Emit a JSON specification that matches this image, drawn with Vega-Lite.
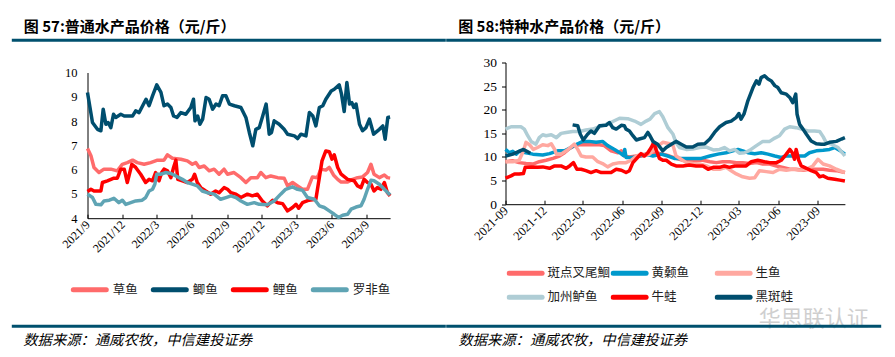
{
"$schema": "https://vega.github.io/schema/vega-lite/v6.json",
"background": "white",
"padding": {"left": 9.5, "top": 19.5, "right": 0, "bottom": 0},
"config": {"view": {"stroke": null}, "font": "Noto Sans CJK SC"},
"spacing": 115,
"bounds": "flush",
"resolve": {"scale": {"color": "independent"}, "legend": {"color": "independent"}},
"hconcat": [
{
 "width": 302.6, "height": 155.7,
 "title": {"text": "图 57:普通水产品价格（元/斤）", "anchor": "start", "frame": "group", "dx": -63.7, "offset": -2.9, "baseline": "middle", "fontSize": 15, "fontWeight": "bold", "color": "#000", "font": "Noto Sans CJK SC"},
 "layer": [
 {"data": {"values": [{}]}, "mark": {"type": "rule", "color": "#00506E", "strokeWidth": 3},
  "encoding": {"x": {"value": -75.7}, "x2": {"value": 358.3}, "y": {"value": -22.3}}},
 {"data": {"values": [{}]}, "mark": {"type": "rule", "color": "#00506E", "strokeWidth": 3},
  "encoding": {"x": {"value": -75.7}, "x2": {"value": 358.3}, "y": {"value": 263.7}}},
 {
  "data": {"format": {"parse": {"date": "date:'%Y-%m-%d'"}}, "values": [
{"date":"2021-09-01","series":"草鱼","price":6.87},{"date":"2021-09-10","series":"草鱼","price":6.57},{"date":"2021-09-18","series":"草鱼","price":6.09},{"date":"2021-10-01","series":"草鱼","price":5.88},{"date":"2021-10-14","series":"草鱼","price":6.02},{"date":"2021-11-01","series":"草鱼","price":6.02},{"date":"2021-11-18","series":"草鱼","price":5.95},{"date":"2021-12-01","series":"草鱼","price":6.22},{"date":"2021-12-14","series":"草鱼","price":6.29},{"date":"2021-12-28","series":"草鱼","price":6.39},{"date":"2022-01-09","series":"草鱼","price":6.29},{"date":"2022-01-27","series":"草鱼","price":6.22},{"date":"2022-02-13","series":"草鱼","price":6.29},{"date":"2022-03-03","series":"草鱼","price":6.39},{"date":"2022-03-20","series":"草鱼","price":6.39},{"date":"2022-03-29","series":"草鱼","price":6.61},{"date":"2022-04-11","series":"草鱼","price":6.47},{"date":"2022-05-03","series":"草鱼","price":6.43},{"date":"2022-05-20","series":"草鱼","price":6.36},{"date":"2022-06-02","series":"草鱼","price":6.22},{"date":"2022-06-11","series":"草鱼","price":6.29},{"date":"2022-06-20","series":"草鱼","price":6.09},{"date":"2022-07-03","series":"草鱼","price":6.15},{"date":"2022-07-16","series":"草鱼","price":5.95},{"date":"2022-07-29","series":"草鱼","price":6.02},{"date":"2022-08-11","series":"草鱼","price":5.81},{"date":"2022-08-24","series":"草鱼","price":6.02},{"date":"2022-09-02","series":"草鱼","price":5.81},{"date":"2022-09-19","series":"草鱼","price":5.88},{"date":"2022-10-07","series":"草鱼","price":5.67},{"date":"2022-10-20","series":"草鱼","price":5.47},{"date":"2022-11-02","series":"草鱼","price":5.67},{"date":"2022-11-19","series":"草鱼","price":5.67},{"date":"2022-11-28","series":"草鱼","price":5.88},{"date":"2022-12-11","series":"草鱼","price":5.67},{"date":"2022-12-24","series":"草鱼","price":5.74},{"date":"2023-01-11","series":"草鱼","price":5.67},{"date":"2023-01-28","series":"草鱼","price":5.65},{"date":"2023-02-06","series":"草鱼","price":5.33},{"date":"2023-02-19","series":"草鱼","price":5.47},{"date":"2023-03-04","series":"草鱼","price":5.33},{"date":"2023-03-17","series":"草鱼","price":5.19},{"date":"2023-03-30","series":"草鱼","price":5.19},{"date":"2023-04-12","series":"草鱼","price":5.7},{"date":"2023-04-25","series":"草鱼","price":5.67},{"date":"2023-05-04","series":"草鱼","price":6.02},{"date":"2023-05-17","series":"草鱼","price":5.98},{"date":"2023-05-26","series":"草鱼","price":6.09},{"date":"2023-06-06","series":"草鱼","price":5.78},{"date":"2023-06-17","series":"草鱼","price":5.6},{"date":"2023-06-26","series":"草鱼","price":5.49},{"date":"2023-07-13","series":"草鱼","price":5.49},{"date":"2023-07-26","series":"草鱼","price":5.6},{"date":"2023-08-08","series":"草鱼","price":5.67},{"date":"2023-08-21","series":"草鱼","price":5.7},{"date":"2023-09-03","series":"草鱼","price":5.88},{"date":"2023-09-12","series":"草鱼","price":6.22},{"date":"2023-09-20","series":"草鱼","price":5.81},{"date":"2023-10-04","series":"草鱼","price":5.67},{"date":"2023-10-17","series":"草鱼","price":5.78},{"date":"2023-10-25","series":"草鱼","price":5.67},{"date":"2023-11-01","series":"草鱼","price":5.65},
{"date":"2021-09-01","series":"鲫鱼","price":9.18},{"date":"2021-09-14","series":"鲫鱼","price":7.94},{"date":"2021-09-27","series":"鲫鱼","price":7.66},{"date":"2021-10-06","series":"鲫鱼","price":7.6},{"date":"2021-10-12","series":"鲫鱼","price":8.49},{"date":"2021-10-19","series":"鲫鱼","price":7.87},{"date":"2021-10-25","series":"鲫鱼","price":7.94},{"date":"2021-11-01","series":"鲫鱼","price":7.73},{"date":"2021-11-08","series":"鲫鱼","price":8.28},{"date":"2021-11-14","series":"鲫鱼","price":8.15},{"date":"2021-11-27","series":"鲫鱼","price":8.28},{"date":"2021-12-06","series":"鲫鱼","price":8.21},{"date":"2021-12-28","series":"鲫鱼","price":8.21},{"date":"2022-01-05","series":"鲫鱼","price":8.42},{"date":"2022-01-14","series":"鲫鱼","price":8.35},{"date":"2022-02-01","series":"鲫鱼","price":8.9},{"date":"2022-02-09","series":"鲫鱼","price":8.63},{"date":"2022-02-18","series":"鲫鱼","price":9.04},{"date":"2022-03-01","series":"鲫鱼","price":9.49},{"date":"2022-03-12","series":"鲫鱼","price":9.18},{"date":"2022-03-20","series":"鲫鱼","price":8.63},{"date":"2022-03-29","series":"鲫鱼","price":8.7},{"date":"2022-04-07","series":"鲫鱼","price":8.56},{"date":"2022-04-14","series":"鲫鱼","price":8.21},{"date":"2022-04-23","series":"鲫鱼","price":8.15},{"date":"2022-05-03","series":"鲫鱼","price":8.35},{"date":"2022-05-16","series":"鲫鱼","price":8.28},{"date":"2022-05-29","series":"鲫鱼","price":8.56},{"date":"2022-06-05","series":"鲫鱼","price":8.9},{"date":"2022-06-09","series":"鲫鱼","price":8.01},{"date":"2022-06-16","series":"鲫鱼","price":8.21},{"date":"2022-06-22","series":"鲫鱼","price":7.87},{"date":"2022-06-29","series":"鲫鱼","price":8.08},{"date":"2022-07-08","series":"鲫鱼","price":8.97},{"date":"2022-07-16","series":"鲫鱼","price":8.9},{"date":"2022-07-25","series":"鲫鱼","price":8.49},{"date":"2022-08-03","series":"鲫鱼","price":8.7},{"date":"2022-08-11","series":"鲫鱼","price":8.63},{"date":"2022-08-20","series":"鲫鱼","price":9.04},{"date":"2022-08-29","series":"鲫鱼","price":9.04},{"date":"2022-09-07","series":"鲫鱼","price":8.7},{"date":"2022-09-20","series":"鲫鱼","price":8.63},{"date":"2022-10-07","series":"鲫鱼","price":8.56},{"date":"2022-10-20","series":"鲫鱼","price":8.15},{"date":"2022-10-29","series":"鲫鱼","price":7.53},{"date":"2022-11-07","series":"鲫鱼","price":6.98},{"date":"2022-11-15","series":"鲫鱼","price":7.66},{"date":"2022-11-24","series":"鲫鱼","price":7.73},{"date":"2022-12-03","series":"鲫鱼","price":8.21},{"date":"2022-12-12","series":"鲫鱼","price":8.7},{"date":"2022-12-20","series":"鲫鱼","price":7.46},{"date":"2022-12-26","series":"鲫鱼","price":7.53},{"date":"2023-01-02","series":"鲫鱼","price":8.01},{"date":"2023-01-15","series":"鲫鱼","price":7.87},{"date":"2023-01-28","series":"鲫鱼","price":7.66},{"date":"2023-02-06","series":"鲫鱼","price":7.46},{"date":"2023-02-24","series":"鲫鱼","price":7.39},{"date":"2023-03-04","series":"鲫鱼","price":7.28},{"date":"2023-03-13","series":"鲫鱼","price":7.46},{"date":"2023-03-26","series":"鲫鱼","price":7.39},{"date":"2023-04-04","series":"鲫鱼","price":8.35},{"date":"2023-04-13","series":"鲫鱼","price":8.21},{"date":"2023-04-21","series":"鲫鱼","price":7.8},{"date":"2023-04-30","series":"鲫鱼","price":8.56},{"date":"2023-05-09","series":"鲫鱼","price":8.63},{"date":"2023-05-17","series":"鲫鱼","price":8.9},{"date":"2023-05-31","series":"鲫鱼","price":9.24},{"date":"2023-06-08","series":"鲫鱼","price":9.31},{"date":"2023-06-21","series":"鲫鱼","price":9.49},{"date":"2023-06-27","series":"鲫鱼","price":9.11},{"date":"2023-07-04","series":"鲫鱼","price":8.39},{"date":"2023-07-11","series":"鲫鱼","price":9.59},{"date":"2023-07-18","series":"鲫鱼","price":8.7},{"date":"2023-07-24","series":"鲫鱼","price":8.76},{"date":"2023-07-29","series":"鲫鱼","price":8.56},{"date":"2023-08-04","series":"鲫鱼","price":8.7},{"date":"2023-08-13","series":"鲫鱼","price":7.87},{"date":"2023-08-21","series":"鲫鱼","price":7.6},{"date":"2023-08-30","series":"鲫鱼","price":7.73},{"date":"2023-09-08","series":"鲫鱼","price":8.08},{"date":"2023-09-19","series":"鲫鱼","price":7.46},{"date":"2023-10-04","series":"鲫鱼","price":7.66},{"date":"2023-10-13","series":"鲫鱼","price":7.8},{"date":"2023-10-19","series":"鲫鱼","price":7.25},{"date":"2023-10-26","series":"鲫鱼","price":8.15},{"date":"2023-11-01","series":"鲫鱼","price":8.17},
{"date":"2021-09-01","series":"鲤鱼","price":5.1},{"date":"2021-09-10","series":"鲤鱼","price":5.19},{"date":"2021-09-18","series":"鲤鱼","price":5.12},{"date":"2021-10-06","series":"鲤鱼","price":5.12},{"date":"2021-10-10","series":"鲤鱼","price":5.47},{"date":"2021-10-23","series":"鲤鱼","price":5.54},{"date":"2021-11-09","series":"鲤鱼","price":5.65},{"date":"2021-11-18","series":"鲤鱼","price":5.65},{"date":"2021-11-27","series":"鲤鱼","price":6.02},{"date":"2021-12-06","series":"鲤鱼","price":6.02},{"date":"2021-12-14","series":"鲤鱼","price":5.47},{"date":"2021-12-26","series":"鲤鱼","price":6.22},{"date":"2022-01-05","series":"鲤鱼","price":6.09},{"date":"2022-01-18","series":"鲤鱼","price":5.81},{"date":"2022-01-31","series":"鲤鱼","price":5.47},{"date":"2022-02-09","series":"鲤鱼","price":5.6},{"date":"2022-02-18","series":"鲤鱼","price":5.54},{"date":"2022-02-26","series":"鲤鱼","price":5.88},{"date":"2022-03-07","series":"鲤鱼","price":5.54},{"date":"2022-03-14","series":"鲤鱼","price":5.88},{"date":"2022-03-20","series":"鲤鱼","price":6.02},{"date":"2022-03-29","series":"鲤鱼","price":5.95},{"date":"2022-04-07","series":"鲤鱼","price":5.67},{"date":"2022-04-14","series":"鲤鱼","price":6.09},{"date":"2022-04-20","series":"鲤鱼","price":6.39},{"date":"2022-04-25","series":"鲤鱼","price":5.6},{"date":"2022-05-07","series":"鲤鱼","price":5.54},{"date":"2022-05-20","series":"鲤鱼","price":5.47},{"date":"2022-06-02","series":"鲤鱼","price":5.6},{"date":"2022-06-08","series":"鲤鱼","price":5.81},{"date":"2022-06-15","series":"鲤鱼","price":5.47},{"date":"2022-06-24","series":"鲤鱼","price":5.26},{"date":"2022-07-07","series":"鲤鱼","price":5.12},{"date":"2022-07-20","series":"鲤鱼","price":4.99},{"date":"2022-08-02","series":"鲤鱼","price":5.12},{"date":"2022-08-11","series":"鲤鱼","price":5.05},{"date":"2022-08-24","series":"鲤鱼","price":5.26},{"date":"2022-09-02","series":"鲤鱼","price":5.19},{"date":"2022-09-11","series":"鲤鱼","price":5.05},{"date":"2022-09-24","series":"鲤鱼","price":4.99},{"date":"2022-10-07","series":"鲤鱼","price":4.85},{"date":"2022-10-24","series":"鲤鱼","price":4.99},{"date":"2022-11-06","series":"鲤鱼","price":4.92},{"date":"2022-11-19","series":"鲤鱼","price":4.99},{"date":"2022-12-02","series":"鲤鱼","price":4.71},{"date":"2022-12-15","series":"鲤鱼","price":4.51},{"date":"2022-12-29","series":"鲤鱼","price":4.74},{"date":"2023-01-11","series":"鲤鱼","price":4.64},{"date":"2023-01-24","series":"鲤鱼","price":4.6},{"date":"2023-02-06","series":"鲤鱼","price":4.3},{"date":"2023-02-19","series":"鲤鱼","price":4.44},{"date":"2023-02-28","series":"鲤鱼","price":4.57},{"date":"2023-03-07","series":"鲤鱼","price":4.41},{"date":"2023-03-17","series":"鲤鱼","price":4.64},{"date":"2023-04-03","series":"鲤鱼","price":4.74},{"date":"2023-04-21","series":"鲤鱼","price":4.78},{"date":"2023-04-30","series":"鲤鱼","price":5.67},{"date":"2023-05-07","series":"鲤鱼","price":6.36},{"date":"2023-05-17","series":"鲤鱼","price":6.77},{"date":"2023-05-26","series":"鲤鱼","price":6.74},{"date":"2023-06-02","series":"鲤鱼","price":6.43},{"date":"2023-06-08","series":"鲤鱼","price":6.61},{"date":"2023-06-17","series":"鲤鱼","price":6.09},{"date":"2023-06-26","series":"鲤鱼","price":5.81},{"date":"2023-07-13","series":"鲤鱼","price":5.6},{"date":"2023-07-30","series":"鲤鱼","price":5.54},{"date":"2023-08-08","series":"鲤鱼","price":5.33},{"date":"2023-08-17","series":"鲤鱼","price":5.26},{"date":"2023-08-25","series":"鲤鱼","price":5.6},{"date":"2023-09-03","series":"鲤鱼","price":5.47},{"date":"2023-09-12","series":"鲤鱼","price":5.4},{"date":"2023-09-20","series":"鲤鱼","price":5.12},{"date":"2023-09-29","series":"鲤鱼","price":5.26},{"date":"2023-10-08","series":"鲤鱼","price":5.19},{"date":"2023-10-17","series":"鲤鱼","price":5.47},{"date":"2023-10-25","series":"鲤鱼","price":5.05},{"date":"2023-11-01","series":"鲤鱼","price":4.92},
{"date":"2021-09-01","series":"罗非鱼","price":4.99},{"date":"2021-09-14","series":"罗非鱼","price":4.85},{"date":"2021-09-23","series":"罗非鱼","price":4.57},{"date":"2021-10-06","series":"罗非鱼","price":4.55},{"date":"2021-10-14","series":"罗非鱼","price":4.71},{"date":"2021-10-28","series":"罗非鱼","price":4.74},{"date":"2021-11-09","series":"罗非鱼","price":4.82},{"date":"2021-11-22","series":"罗非鱼","price":4.64},{"date":"2021-12-01","series":"罗非鱼","price":4.74},{"date":"2021-12-10","series":"罗非鱼","price":4.57},{"date":"2021-12-23","series":"罗非鱼","price":4.64},{"date":"2022-01-05","series":"罗非鱼","price":4.71},{"date":"2022-01-22","series":"罗非鱼","price":4.74},{"date":"2022-01-31","series":"罗非鱼","price":4.85},{"date":"2022-02-09","series":"罗非鱼","price":5.12},{"date":"2022-02-18","series":"罗非鱼","price":5.19},{"date":"2022-02-24","series":"罗非鱼","price":5.4},{"date":"2022-03-01","series":"罗非鱼","price":5.81},{"date":"2022-03-11","series":"罗非鱼","price":5.81},{"date":"2022-03-24","series":"罗非鱼","price":5.88},{"date":"2022-04-07","series":"罗非鱼","price":5.84},{"date":"2022-04-20","series":"罗非鱼","price":5.74},{"date":"2022-05-07","series":"罗非鱼","price":5.6},{"date":"2022-05-20","series":"罗非鱼","price":5.47},{"date":"2022-06-02","series":"罗非鱼","price":5.4},{"date":"2022-06-15","series":"罗非鱼","price":5.33},{"date":"2022-06-28","series":"罗非鱼","price":5.12},{"date":"2022-07-11","series":"罗非鱼","price":5.05},{"date":"2022-07-29","series":"罗非鱼","price":4.99},{"date":"2022-08-15","series":"罗非鱼","price":4.78},{"date":"2022-08-29","series":"罗非鱼","price":4.85},{"date":"2022-09-11","series":"罗非鱼","price":4.92},{"date":"2022-09-24","series":"罗非鱼","price":4.85},{"date":"2022-10-07","series":"罗非鱼","price":4.71},{"date":"2022-10-24","series":"罗非鱼","price":4.57},{"date":"2022-11-11","series":"罗非鱼","price":4.64},{"date":"2022-11-24","series":"罗非鱼","price":4.57},{"date":"2022-12-15","series":"罗非鱼","price":4.55},{"date":"2023-01-02","series":"罗非鱼","price":4.71},{"date":"2023-01-19","series":"罗非鱼","price":4.99},{"date":"2023-02-01","series":"罗非鱼","price":5.19},{"date":"2023-02-19","series":"罗非鱼","price":5.29},{"date":"2023-03-04","series":"罗非鱼","price":5.19},{"date":"2023-03-17","series":"罗非鱼","price":5.15},{"date":"2023-03-30","series":"罗非鱼","price":4.85},{"date":"2023-04-17","series":"罗非鱼","price":4.78},{"date":"2023-04-30","series":"罗非鱼","price":4.51},{"date":"2023-05-13","series":"罗非鱼","price":4.44},{"date":"2023-05-26","series":"罗非鱼","price":4.3},{"date":"2023-06-08","series":"罗非鱼","price":4.16},{"date":"2023-06-19","series":"罗非鱼","price":4.03},{"date":"2023-06-30","series":"罗非鱼","price":4.12},{"date":"2023-07-13","series":"罗非鱼","price":4.16},{"date":"2023-07-22","series":"罗非鱼","price":4.37},{"date":"2023-08-04","series":"罗非鱼","price":4.46},{"date":"2023-08-17","series":"罗非鱼","price":4.51},{"date":"2023-08-25","series":"罗非鱼","price":4.78},{"date":"2023-09-03","series":"罗非鱼","price":5.19},{"date":"2023-09-12","series":"罗非鱼","price":5.56},{"date":"2023-09-20","series":"罗非鱼","price":5.54},{"date":"2023-10-04","series":"罗非鱼","price":5.4},{"date":"2023-10-17","series":"罗非鱼","price":5.19},{"date":"2023-11-01","series":"罗非鱼","price":4.96}
  ]},
  "mark": {"type": "line", "strokeWidth": 3.5, "strokeJoin": "round"},
  "encoding": {
   "x": {"field": "date", "type": "temporal",
    "scale": {"domain": [{"year": 2021, "month": 9, "date": 1}, {"year": 2023, "month": 11, "date": 1}]},
    "axis": {"grid": false, "format": "%Y/%-m", "labelAngle": -45, "labelAlign": "right", "labelBaseline": "middle", "labelFont": "Liberation Serif", "labelFontSize": 12, "labelColor": "#000", "labelPadding": 8, "labelOverlap": false, "labelFlush": false, "tickSize": -4, "tickColor": "#000", "domainColor": "#000",
     "title": "数据来源：通威农牧，中信建投证券", "titleX": -64.7, "titleY": 122, "titleAlign": "left", "titleBaseline": "middle", "titleAngle": 0, "titleFont": "Noto Sans CJK SC", "titleFontSize": 14.3, "titleFontStyle": "italic", "titleFontWeight": "normal", "titleColor": "#000",
     "values": [{"year": 2021, "month": 9, "date": 1}, {"year": 2021, "month": 12, "date": 1}, {"year": 2022, "month": 3, "date": 1}, {"year": 2022, "month": 6, "date": 1}, {"year": 2022, "month": 9, "date": 1}, {"year": 2022, "month": 12, "date": 1}, {"year": 2023, "month": 3, "date": 1}, {"year": 2023, "month": 6, "date": 1}, {"year": 2023, "month": 9, "date": 1}]}},
   "y": {"field": "price", "type": "quantitative",
    "scale": {"domain": [4, 10], "range": [155.7, 10], "nice": false, "zero": false},
    "axis": {"title": null, "grid": false, "values": [4, 5, 6, 7, 8, 9, 10], "ticks": false, "labelPadding": 10.5, "labelFont": "Liberation Serif", "labelFontSize": 12.5, "labelColor": "#000", "domainColor": "#000"}},
   "color": {"field": "series", "type": "nominal",
    "scale": {"domain": ["草鱼", "鲫鱼", "鲤鱼", "罗非鱼"], "range": ["#FF6B6B", "#004E6E", "#FF0000", "#5FA4B4"]},
    "legend": {"title": null, "orient": "none", "legendX": -16.7, "legendY": 208.2, "direction": "horizontal", "padding": 0, "symbolType": "stroke", "symbolSize": 1089, "symbolStrokeWidth": 5, "labelFont": "Noto Sans CJK SC", "labelFontSize": 12.5, "labelColor": "#222", "labelOffset": 4, "columnPadding": 4,
     "encode": {"symbols": {"update": {"strokeCap": {"value": "round"}}}}}}
  }}
 ]
},
{
 "width": 339.4, "height": 141.7,
 "title": {"text": "图 58:特种水产品价格（元/斤）", "anchor": "start", "frame": "group", "dx": -47.3, "offset": -2.9, "baseline": "middle", "fontSize": 15, "fontWeight": "bold", "color": "#000", "font": "Noto Sans CJK SC"},
 "layer": [
 {"data": {"values": [{}]}, "mark": {"type": "rule", "color": "#00506E", "strokeWidth": 3},
  "encoding": {"x": {"value": -59.3}, "x2": {"value": 375.7}, "y": {"value": -22.3}}},
 {"data": {"values": [{}]}, "mark": {"type": "rule", "color": "#00506E", "strokeWidth": 3},
  "encoding": {"x": {"value": -59.3}, "x2": {"value": 375.7}, "y": {"value": 263.7}}},
 {
 "data": {"format": {"parse": {"date": "date:'%Y-%m-%d'"}}, "values": [
{"date":"2021-09-01","series":"斑点叉尾鮰","price":9.0},{"date":"2021-09-18","series":"斑点叉尾鮰","price":9.2},{"date":"2021-10-03","series":"斑点叉尾鮰","price":8.8},{"date":"2021-10-19","series":"斑点叉尾鮰","price":8.6},{"date":"2021-11-04","series":"斑点叉尾鮰","price":8.5},{"date":"2021-11-19","series":"斑点叉尾鮰","price":9.0},{"date":"2021-12-05","series":"斑点叉尾鮰","price":9.3},{"date":"2021-12-21","series":"斑点叉尾鮰","price":9.7},{"date":"2022-01-05","series":"斑点叉尾鮰","price":10.2},{"date":"2022-01-17","series":"斑点叉尾鮰","price":10.9},{"date":"2022-01-29","series":"斑点叉尾鮰","price":11.8},{"date":"2022-02-09","series":"斑点叉尾鮰","price":12.4},{"date":"2022-02-21","series":"斑点叉尾鮰","price":12.6},{"date":"2022-03-08","series":"斑点叉尾鮰","price":12.6},{"date":"2022-03-24","series":"斑点叉尾鮰","price":12.6},{"date":"2022-04-09","series":"斑点叉尾鮰","price":12.6},{"date":"2022-04-20","series":"斑点叉尾鮰","price":12.4},{"date":"2022-05-06","series":"斑点叉尾鮰","price":11.3},{"date":"2022-05-22","series":"斑点叉尾鮰","price":10.9},{"date":"2022-05-30","series":"斑点叉尾鮰","price":11.3},{"date":"2022-06-06","series":"斑点叉尾鮰","price":10.2},{"date":"2022-06-18","series":"斑点叉尾鮰","price":10.0},{"date":"2022-07-04","series":"斑点叉尾鮰","price":10.2},{"date":"2022-07-19","series":"斑点叉尾鮰","price":10.2},{"date":"2022-08-04","series":"斑点叉尾鮰","price":10.6},{"date":"2022-08-19","series":"斑点叉尾鮰","price":10.9},{"date":"2022-09-04","series":"斑点叉尾鮰","price":10.6},{"date":"2022-09-20","series":"斑点叉尾鮰","price":10.2},{"date":"2022-10-05","series":"斑点叉尾鮰","price":9.7},{"date":"2022-10-21","series":"斑点叉尾鮰","price":9.3},{"date":"2022-11-05","series":"斑点叉尾鮰","price":9.3},{"date":"2022-11-21","series":"斑点叉尾鮰","price":9.3},{"date":"2022-12-07","series":"斑点叉尾鮰","price":9.3},{"date":"2022-12-23","series":"斑点叉尾鮰","price":9.0},{"date":"2023-01-07","series":"斑点叉尾鮰","price":8.8},{"date":"2023-01-22","series":"斑点叉尾鮰","price":9.0},{"date":"2023-02-07","series":"斑点叉尾鮰","price":9.0},{"date":"2023-02-23","series":"斑点叉尾鮰","price":8.8},{"date":"2023-03-10","series":"斑点叉尾鮰","price":8.8},{"date":"2023-03-26","series":"斑点叉尾鮰","price":8.6},{"date":"2023-04-11","series":"斑点叉尾鮰","price":8.8},{"date":"2023-04-26","series":"斑点叉尾鮰","price":8.5},{"date":"2023-05-12","series":"斑点叉尾鮰","price":8.5},{"date":"2023-05-28","series":"斑点叉尾鮰","price":8.1},{"date":"2023-06-12","series":"斑点叉尾鮰","price":7.8},{"date":"2023-06-28","series":"斑点叉尾鮰","price":7.4},{"date":"2023-07-13","series":"斑点叉尾鮰","price":7.4},{"date":"2023-07-29","series":"斑点叉尾鮰","price":7.2},{"date":"2023-08-13","series":"斑点叉尾鮰","price":7.4},{"date":"2023-08-29","series":"斑点叉尾鮰","price":7.4},{"date":"2023-09-14","series":"斑点叉尾鮰","price":7.4},{"date":"2023-09-29","series":"斑点叉尾鮰","price":7.2},{"date":"2023-10-15","series":"斑点叉尾鮰","price":7.1},{"date":"2023-11-04","series":"斑点叉尾鮰","price":6.7},
{"date":"2021-09-01","series":"黄颡鱼","price":11.6},{"date":"2021-09-10","series":"黄颡鱼","price":10.9},{"date":"2021-09-18","series":"黄颡鱼","price":11.2},{"date":"2021-09-26","series":"黄颡鱼","price":10.6},{"date":"2021-10-03","series":"黄颡鱼","price":11.2},{"date":"2021-10-19","series":"黄颡鱼","price":10.9},{"date":"2021-11-04","series":"黄颡鱼","price":10.6},{"date":"2021-11-27","series":"黄颡鱼","price":10.4},{"date":"2021-12-13","series":"黄颡鱼","price":10.7},{"date":"2022-01-01","series":"黄颡鱼","price":11.3},{"date":"2022-01-17","series":"黄颡鱼","price":11.3},{"date":"2022-02-01","series":"黄颡鱼","price":12.0},{"date":"2022-02-17","series":"黄颡鱼","price":12.8},{"date":"2022-03-01","series":"黄颡鱼","price":13.3},{"date":"2022-03-16","series":"黄颡鱼","price":13.3},{"date":"2022-04-01","series":"黄颡鱼","price":13.1},{"date":"2022-04-16","series":"黄颡鱼","price":13.3},{"date":"2022-04-28","series":"黄颡鱼","price":12.4},{"date":"2022-05-14","series":"黄颡鱼","price":11.6},{"date":"2022-05-26","series":"黄颡鱼","price":10.9},{"date":"2022-06-04","series":"黄颡鱼","price":10.3},{"date":"2022-06-07","series":"黄颡鱼","price":11.6},{"date":"2022-06-10","series":"黄颡鱼","price":9.9},{"date":"2022-06-26","series":"黄颡鱼","price":9.9},{"date":"2022-07-11","series":"黄颡鱼","price":10.2},{"date":"2022-07-27","series":"黄颡鱼","price":10.6},{"date":"2022-08-12","series":"黄颡鱼","price":10.2},{"date":"2022-08-31","series":"黄颡鱼","price":10.6},{"date":"2022-09-16","series":"黄颡鱼","price":10.2},{"date":"2022-10-01","series":"黄颡鱼","price":9.7},{"date":"2022-10-17","series":"黄颡鱼","price":9.7},{"date":"2022-11-01","series":"黄颡鱼","price":9.7},{"date":"2022-11-17","series":"黄颡鱼","price":9.7},{"date":"2022-12-03","series":"黄颡鱼","price":9.7},{"date":"2022-12-23","series":"黄颡鱼","price":10.2},{"date":"2023-01-11","series":"黄颡鱼","price":10.6},{"date":"2023-01-30","series":"黄颡鱼","price":10.9},{"date":"2023-02-15","series":"黄颡鱼","price":11.3},{"date":"2023-02-27","series":"黄颡鱼","price":11.6},{"date":"2023-03-10","series":"黄颡鱼","price":11.3},{"date":"2023-03-22","series":"黄颡鱼","price":10.9},{"date":"2023-04-07","series":"黄颡鱼","price":10.7},{"date":"2023-04-22","series":"黄颡鱼","price":10.9},{"date":"2023-05-08","series":"黄颡鱼","price":10.6},{"date":"2023-05-24","series":"黄颡鱼","price":10.2},{"date":"2023-06-08","series":"黄颡鱼","price":9.9},{"date":"2023-06-20","series":"黄颡鱼","price":10.2},{"date":"2023-07-05","series":"黄颡鱼","price":10.2},{"date":"2023-07-21","series":"黄颡鱼","price":10.2},{"date":"2023-08-02","series":"黄颡鱼","price":10.2},{"date":"2023-08-13","series":"黄颡鱼","price":10.9},{"date":"2023-08-29","series":"黄颡鱼","price":11.3},{"date":"2023-09-14","series":"黄颡鱼","price":11.4},{"date":"2023-09-29","series":"黄颡鱼","price":11.6},{"date":"2023-10-11","series":"黄颡鱼","price":12.0},{"date":"2023-10-23","series":"黄颡鱼","price":11.4},{"date":"2023-11-04","series":"黄颡鱼","price":10.6},
{"date":"2021-09-01","series":"生鱼","price":9.0},{"date":"2021-09-18","series":"生鱼","price":9.0},{"date":"2021-10-03","series":"生鱼","price":9.3},{"date":"2021-10-13","series":"生鱼","price":11.3},{"date":"2021-10-19","series":"生鱼","price":13.1},{"date":"2021-10-27","series":"生鱼","price":12.6},{"date":"2021-11-05","series":"生鱼","price":11.6},{"date":"2021-11-15","series":"生鱼","price":12.0},{"date":"2021-11-27","series":"生鱼","price":12.6},{"date":"2021-12-09","series":"生鱼","price":12.4},{"date":"2021-12-17","series":"生鱼","price":12.8},{"date":"2021-12-25","series":"生鱼","price":11.6},{"date":"2021-12-29","series":"生鱼","price":10.6},{"date":"2022-01-09","series":"生鱼","price":10.6},{"date":"2022-01-21","series":"生鱼","price":11.3},{"date":"2022-02-01","series":"生鱼","price":12.1},{"date":"2022-02-09","series":"生鱼","price":12.7},{"date":"2022-02-17","series":"生鱼","price":11.6},{"date":"2022-02-25","series":"生鱼","price":10.2},{"date":"2022-03-08","series":"生鱼","price":10.0},{"date":"2022-03-24","series":"生鱼","price":10.0},{"date":"2022-04-05","series":"生鱼","price":9.0},{"date":"2022-04-16","series":"生鱼","price":8.6},{"date":"2022-04-28","series":"生鱼","price":7.9},{"date":"2022-05-10","series":"生鱼","price":8.5},{"date":"2022-05-26","series":"生鱼","price":8.8},{"date":"2022-06-10","series":"生鱼","price":8.8},{"date":"2022-06-22","series":"生鱼","price":9.3},{"date":"2022-07-04","series":"生鱼","price":10.2},{"date":"2022-07-19","series":"生鱼","price":10.6},{"date":"2022-08-04","series":"生鱼","price":10.6},{"date":"2022-08-19","series":"生鱼","price":12.0},{"date":"2022-09-04","series":"生鱼","price":13.1},{"date":"2022-09-20","series":"生鱼","price":12.8},{"date":"2022-09-28","series":"生鱼","price":12.4},{"date":"2022-10-05","series":"生鱼","price":10.2},{"date":"2022-10-17","series":"生鱼","price":9.5},{"date":"2022-10-29","series":"生鱼","price":8.8},{"date":"2022-11-13","series":"生鱼","price":8.6},{"date":"2022-11-29","series":"生鱼","price":8.5},{"date":"2022-12-15","series":"生鱼","price":8.1},{"date":"2022-12-31","series":"生鱼","price":7.4},{"date":"2023-01-15","series":"生鱼","price":7.4},{"date":"2023-01-30","series":"生鱼","price":7.8},{"date":"2023-02-11","series":"生鱼","price":7.1},{"date":"2023-02-23","series":"生鱼","price":6.4},{"date":"2023-03-10","series":"生鱼","price":5.8},{"date":"2023-03-26","series":"生鱼","price":5.5},{"date":"2023-04-07","series":"生鱼","price":5.6},{"date":"2023-04-18","series":"生鱼","price":7.1},{"date":"2023-05-04","series":"生鱼","price":6.9},{"date":"2023-05-20","series":"生鱼","price":6.7},{"date":"2023-06-04","series":"生鱼","price":7.4},{"date":"2023-06-20","series":"生鱼","price":7.2},{"date":"2023-07-05","series":"生鱼","price":7.4},{"date":"2023-07-21","series":"生鱼","price":7.2},{"date":"2023-08-06","series":"生鱼","price":7.4},{"date":"2023-08-21","series":"生鱼","price":8.1},{"date":"2023-09-02","series":"生鱼","price":9.5},{"date":"2023-09-14","series":"生鱼","price":8.5},{"date":"2023-09-29","series":"生鱼","price":8.1},{"date":"2023-10-15","series":"生鱼","price":7.4},{"date":"2023-11-04","series":"生鱼","price":6.7},
{"date":"2021-09-01","series":"加州鲈鱼","price":15.9},{"date":"2021-09-14","series":"加州鲈鱼","price":16.4},{"date":"2021-10-07","series":"加州鲈鱼","price":16.4},{"date":"2021-10-15","series":"加州鲈鱼","price":15.9},{"date":"2021-10-23","series":"加州鲈鱼","price":14.5},{"date":"2021-10-31","series":"加州鲈鱼","price":13.3},{"date":"2021-11-11","series":"加州鲈鱼","price":12.7},{"date":"2021-11-19","series":"加州鲈鱼","price":14.1},{"date":"2021-11-27","series":"加州鲈鱼","price":14.7},{"date":"2021-12-05","series":"加州鲈鱼","price":14.5},{"date":"2021-12-17","series":"加州鲈鱼","price":14.7},{"date":"2021-12-29","series":"加州鲈鱼","price":14.1},{"date":"2022-01-09","series":"加州鲈鱼","price":15.0},{"date":"2022-01-21","series":"加州鲈鱼","price":15.2},{"date":"2022-02-05","series":"加州鲈鱼","price":15.4},{"date":"2022-02-21","series":"加州鲈鱼","price":15.4},{"date":"2022-03-08","series":"加州鲈鱼","price":15.7},{"date":"2022-03-24","series":"加州鲈鱼","price":15.9},{"date":"2022-04-09","series":"加州鲈鱼","price":16.4},{"date":"2022-04-24","series":"加州鲈鱼","price":16.9},{"date":"2022-05-10","series":"加州鲈鱼","price":17.5},{"date":"2022-05-26","series":"加州鲈鱼","price":18.2},{"date":"2022-06-14","series":"加州鲈鱼","price":18.1},{"date":"2022-06-30","series":"加州鲈鱼","price":17.6},{"date":"2022-07-15","series":"加州鲈鱼","price":16.9},{"date":"2022-07-27","series":"加州鲈鱼","price":17.6},{"date":"2022-08-05","series":"加州鲈鱼","price":18.0},{"date":"2022-08-16","series":"加州鲈鱼","price":19.2},{"date":"2022-08-27","series":"加州鲈鱼","price":19.6},{"date":"2022-09-04","series":"加州鲈鱼","price":18.5},{"date":"2022-09-16","series":"加州鲈鱼","price":16.2},{"date":"2022-09-28","series":"加州鲈鱼","price":14.8},{"date":"2022-10-05","series":"加州鲈鱼","price":13.0},{"date":"2022-10-13","series":"加州鲈鱼","price":12.0},{"date":"2022-10-29","series":"加州鲈鱼","price":11.6},{"date":"2022-11-13","series":"加州鲈鱼","price":11.7},{"date":"2022-11-29","series":"加州鲈鱼","price":12.0},{"date":"2022-12-15","series":"加州鲈鱼","price":12.1},{"date":"2022-12-31","series":"加州鲈鱼","price":11.5},{"date":"2023-01-15","series":"加州鲈鱼","price":11.6},{"date":"2023-01-26","series":"加州鲈鱼","price":12.0},{"date":"2023-02-07","series":"加州鲈鱼","price":11.3},{"date":"2023-02-19","series":"加州鲈鱼","price":11.6},{"date":"2023-03-02","series":"加州鲈鱼","price":10.8},{"date":"2023-03-14","series":"加州鲈鱼","price":10.9},{"date":"2023-03-26","series":"加州鲈鱼","price":11.4},{"date":"2023-04-11","series":"加州鲈鱼","price":12.4},{"date":"2023-04-26","series":"加州鲈鱼","price":13.3},{"date":"2023-05-12","series":"加州鲈鱼","price":13.3},{"date":"2023-05-24","series":"加州鲈鱼","price":14.0},{"date":"2023-06-04","series":"加州鲈鱼","price":14.5},{"date":"2023-06-16","series":"加州鲈鱼","price":15.9},{"date":"2023-06-28","series":"加州鲈鱼","price":16.4},{"date":"2023-07-13","series":"加州鲈鱼","price":16.2},{"date":"2023-07-25","series":"加州鲈鱼","price":15.9},{"date":"2023-08-10","series":"加州鲈鱼","price":15.5},{"date":"2023-08-25","series":"加州鲈鱼","price":15.5},{"date":"2023-09-06","series":"加州鲈鱼","price":15.4},{"date":"2023-09-14","series":"加州鲈鱼","price":14.3},{"date":"2023-09-21","series":"加州鲈鱼","price":13.1},{"date":"2023-10-03","series":"加州鲈鱼","price":12.7},{"date":"2023-10-19","series":"加州鲈鱼","price":12.0},{"date":"2023-11-04","series":"加州鲈鱼","price":10.2},
{"date":"2021-09-01","series":"牛蛙","price":5.5},{"date":"2021-09-14","series":"牛蛙","price":6.0},{"date":"2021-09-22","series":"牛蛙","price":6.4},{"date":"2021-10-03","series":"牛蛙","price":6.4},{"date":"2021-10-13","series":"牛蛙","price":6.5},{"date":"2021-10-17","series":"牛蛙","price":7.8},{"date":"2021-10-31","series":"牛蛙","price":7.9},{"date":"2021-11-15","series":"牛蛙","price":7.8},{"date":"2021-11-27","series":"牛蛙","price":7.9},{"date":"2021-12-13","series":"牛蛙","price":7.6},{"date":"2021-12-25","series":"牛蛙","price":8.1},{"date":"2022-01-09","series":"牛蛙","price":8.1},{"date":"2022-01-21","series":"牛蛙","price":7.6},{"date":"2022-01-29","series":"牛蛙","price":8.1},{"date":"2022-02-07","series":"牛蛙","price":8.8},{"date":"2022-02-15","series":"牛蛙","price":7.4},{"date":"2022-02-25","series":"牛蛙","price":7.4},{"date":"2022-03-08","series":"牛蛙","price":7.1},{"date":"2022-03-20","series":"牛蛙","price":6.7},{"date":"2022-04-01","series":"牛蛙","price":7.1},{"date":"2022-04-13","series":"牛蛙","price":6.7},{"date":"2022-05-06","series":"牛蛙","price":6.7},{"date":"2022-05-18","series":"牛蛙","price":7.4},{"date":"2022-05-30","series":"牛蛙","price":7.2},{"date":"2022-06-10","series":"牛蛙","price":6.7},{"date":"2022-06-18","series":"牛蛙","price":7.1},{"date":"2022-06-26","series":"牛蛙","price":8.8},{"date":"2022-07-08","series":"牛蛙","price":10.0},{"date":"2022-07-15","series":"牛蛙","price":10.7},{"date":"2022-07-23","series":"牛蛙","price":10.2},{"date":"2022-07-31","series":"牛蛙","price":10.9},{"date":"2022-08-08","series":"牛蛙","price":12.0},{"date":"2022-08-14","series":"牛蛙","price":13.1},{"date":"2022-08-19","series":"牛蛙","price":11.6},{"date":"2022-08-27","series":"牛蛙","price":9.7},{"date":"2022-09-04","series":"牛蛙","price":9.3},{"date":"2022-09-12","series":"牛蛙","price":9.3},{"date":"2022-09-24","series":"牛蛙","price":8.5},{"date":"2022-10-05","series":"牛蛙","price":8.1},{"date":"2022-10-21","series":"牛蛙","price":8.1},{"date":"2022-11-05","series":"牛蛙","price":8.3},{"date":"2022-11-21","series":"牛蛙","price":8.1},{"date":"2022-12-07","series":"牛蛙","price":8.1},{"date":"2022-12-19","series":"牛蛙","price":7.4},{"date":"2022-12-31","series":"牛蛙","price":7.8},{"date":"2023-01-15","series":"牛蛙","price":7.8},{"date":"2023-01-26","series":"牛蛙","price":8.1},{"date":"2023-02-07","series":"牛蛙","price":7.8},{"date":"2023-02-19","series":"牛蛙","price":8.1},{"date":"2023-03-02","series":"牛蛙","price":8.1},{"date":"2023-03-18","series":"牛蛙","price":8.1},{"date":"2023-03-30","series":"牛蛙","price":9.0},{"date":"2023-04-14","series":"牛蛙","price":9.3},{"date":"2023-04-30","series":"牛蛙","price":9.0},{"date":"2023-05-12","series":"牛蛙","price":8.8},{"date":"2023-05-28","series":"牛蛙","price":8.8},{"date":"2023-06-08","series":"牛蛙","price":9.3},{"date":"2023-06-20","series":"牛蛙","price":10.6},{"date":"2023-06-28","series":"牛蛙","price":11.6},{"date":"2023-07-04","series":"牛蛙","price":10.9},{"date":"2023-07-09","series":"牛蛙","price":9.5},{"date":"2023-07-13","series":"牛蛙","price":11.6},{"date":"2023-07-19","series":"牛蛙","price":9.3},{"date":"2023-07-25","series":"牛蛙","price":8.1},{"date":"2023-08-06","series":"牛蛙","price":7.6},{"date":"2023-08-17","series":"牛蛙","price":7.1},{"date":"2023-08-29","series":"牛蛙","price":6.7},{"date":"2023-09-06","series":"牛蛙","price":5.8},{"date":"2023-09-14","series":"牛蛙","price":6.0},{"date":"2023-09-25","series":"牛蛙","price":5.5},{"date":"2023-10-11","series":"牛蛙","price":5.3},{"date":"2023-10-23","series":"牛蛙","price":5.1},{"date":"2023-11-04","series":"牛蛙","price":4.9},
{"date":"2021-09-01","series":"黑斑蛙","price":10.2},{"date":"2021-09-18","series":"黑斑蛙","price":10.6},{"date":"2021-09-30","series":"黑斑蛙","price":11.1},{"date":"2021-10-13","series":"黑斑蛙","price":11.6},{"date":"2021-10-23","series":"黑斑蛙","price":11.1},{"date":"2021-10-29","series":"黑斑蛙","price":10.8},{"date":"2021-12-15","series":"黑斑蛙","price":null},{"date":"2022-02-05","series":"黑斑蛙","price":16.8},{"date":"2022-02-17","series":"黑斑蛙","price":16.6},{"date":"2022-02-23","series":"黑斑蛙","price":14.8},{"date":"2022-03-02","series":"黑斑蛙","price":13.6},{"date":"2022-03-12","series":"黑斑蛙","price":14.8},{"date":"2022-03-20","series":"黑斑蛙","price":15.5},{"date":"2022-03-28","series":"黑斑蛙","price":15.0},{"date":"2022-04-09","series":"黑斑蛙","price":16.6},{"date":"2022-04-24","series":"黑斑蛙","price":16.7},{"date":"2022-05-02","series":"黑斑蛙","price":17.3},{"date":"2022-05-10","series":"黑斑蛙","price":16.2},{"date":"2022-05-18","series":"黑斑蛙","price":15.9},{"date":"2022-05-30","series":"黑斑蛙","price":16.7},{"date":"2022-06-06","series":"黑斑蛙","price":16.6},{"date":"2022-06-10","series":"黑斑蛙","price":15.9},{"date":"2022-06-18","series":"黑斑蛙","price":15.5},{"date":"2022-06-26","series":"黑斑蛙","price":14.5},{"date":"2022-07-04","series":"黑斑蛙","price":13.6},{"date":"2022-07-11","series":"黑斑蛙","price":13.8},{"date":"2022-07-23","series":"黑斑蛙","price":14.1},{"date":"2022-07-31","series":"黑斑蛙","price":15.2},{"date":"2022-08-05","series":"黑斑蛙","price":14.5},{"date":"2022-08-12","series":"黑斑蛙","price":13.3},{"date":"2022-08-23","series":"黑斑蛙","price":12.7},{"date":"2022-09-04","series":"黑斑蛙","price":11.3},{"date":"2022-09-12","series":"黑斑蛙","price":12.0},{"date":"2022-09-24","series":"黑斑蛙","price":12.7},{"date":"2022-10-05","series":"黑斑蛙","price":13.3},{"date":"2022-10-17","series":"黑斑蛙","price":12.7},{"date":"2022-10-29","series":"黑斑蛙","price":12.1},{"date":"2022-11-13","series":"黑斑蛙","price":12.1},{"date":"2022-11-25","series":"黑斑蛙","price":12.7},{"date":"2022-12-11","series":"黑斑蛙","price":12.8},{"date":"2022-12-23","series":"黑斑蛙","price":13.8},{"date":"2023-01-03","series":"黑斑蛙","price":15.2},{"date":"2023-01-15","series":"黑斑蛙","price":16.4},{"date":"2023-01-30","series":"黑斑蛙","price":17.3},{"date":"2023-02-11","series":"黑斑蛙","price":17.6},{"date":"2023-02-23","series":"黑斑蛙","price":18.4},{"date":"2023-03-01","series":"黑斑蛙","price":19.2},{"date":"2023-03-06","series":"黑斑蛙","price":18.0},{"date":"2023-03-13","series":"黑斑蛙","price":19.1},{"date":"2023-03-22","series":"黑斑蛙","price":21.9},{"date":"2023-04-03","series":"黑斑蛙","price":24.7},{"date":"2023-04-11","series":"黑斑蛙","price":26.1},{"date":"2023-04-17","series":"黑斑蛙","price":25.4},{"date":"2023-04-22","series":"黑斑蛙","price":26.8},{"date":"2023-04-30","series":"黑斑蛙","price":27.2},{"date":"2023-05-08","series":"黑斑蛙","price":26.5},{"date":"2023-05-16","series":"黑斑蛙","price":26.1},{"date":"2023-05-24","series":"黑斑蛙","price":25.1},{"date":"2023-05-31","series":"黑斑蛙","price":24.7},{"date":"2023-06-08","series":"黑斑蛙","price":23.6},{"date":"2023-06-20","series":"黑斑蛙","price":23.3},{"date":"2023-06-28","series":"黑斑蛙","price":22.6},{"date":"2023-07-05","series":"黑斑蛙","price":21.5},{"date":"2023-07-12","series":"黑斑蛙","price":23.3},{"date":"2023-07-15","series":"黑斑蛙","price":19.1},{"date":"2023-07-21","series":"黑斑蛙","price":16.9},{"date":"2023-07-29","series":"黑斑蛙","price":15.9},{"date":"2023-08-06","series":"黑斑蛙","price":14.8},{"date":"2023-08-17","series":"黑斑蛙","price":13.4},{"date":"2023-08-29","series":"黑斑蛙","price":12.8},{"date":"2023-09-10","series":"黑斑蛙","price":12.7},{"date":"2023-09-18","series":"黑斑蛙","price":12.7},{"date":"2023-09-29","series":"黑斑蛙","price":13.1},{"date":"2023-10-15","series":"黑斑蛙","price":13.3},{"date":"2023-10-27","series":"黑斑蛙","price":13.8},{"date":"2023-11-04","series":"黑斑蛙","price":14.1}
 ]},
 "mark": {"type": "line", "strokeWidth": 3.5, "strokeJoin": "round", "invalid": "break-paths-filter-domains"},
 "encoding": {
  "x": {"field": "date", "type": "temporal",
   "scale": {"domain": [{"year": 2021, "month": 9, "date": 1}, {"year": 2023, "month": 11, "date": 4}]},
   "axis": {"grid": false, "format": "%Y-%m", "labelAngle": -45, "labelAlign": "right", "labelBaseline": "middle", "labelFont": "Liberation Serif", "labelFontSize": 12.5, "labelColor": "#000", "labelPadding": 8, "labelOverlap": false, "labelFlush": false, "tickSize": -4, "tickColor": "#000", "domainColor": "#000",
    "title": "数据来源：通威农牧，中信建投证券", "titleX": -47.6, "titleY": 136, "titleAlign": "left", "titleBaseline": "middle", "titleAngle": 0, "titleFont": "Noto Sans CJK SC", "titleFontSize": 14.3, "titleFontStyle": "italic", "titleFontWeight": "normal", "titleColor": "#000",
    "values": [{"year": 2021, "month": 9, "date": 1}, {"year": 2021, "month": 12, "date": 1}, {"year": 2022, "month": 3, "date": 1}, {"year": 2022, "month": 6, "date": 1}, {"year": 2022, "month": 9, "date": 1}, {"year": 2022, "month": 12, "date": 1}, {"year": 2023, "month": 3, "date": 1}, {"year": 2023, "month": 6, "date": 1}, {"year": 2023, "month": 9, "date": 1}]}},
  "y": {"field": "price", "type": "quantitative",
   "scale": {"domain": [0, 30], "nice": false},
   "axis": {"grid": false, "values": [0, 5, 10, 15, 20, 25, 30], "tickSize": 4, "tickColor": "#000", "labelPadding": 5, "labelFont": "Liberation Serif", "labelFontSize": 13.5, "labelColor": "#000", "domainColor": "#000",
    "title": "华思联认证", "titleAngle": 0, "titleX": 307.7, "titleY": 255.7, "titleAlign": "center", "titleBaseline": "middle", "titleFont": "Noto Sans CJK SC", "titleFontSize": 22, "titleFontWeight": "normal", "titleColor": "#CFCFCF"}},
  "color": {"field": "series", "type": "nominal",
   "scale": {"domain": ["斑点叉尾鮰", "黄颡鱼", "生鱼", "加州鲈鱼", "牛蛙", "黑斑蛙"], "range": ["#FF6B6B", "#0099CC", "#FFA8A0", "#AFCDD5", "#FF0000", "#004E6E"]},
   "legend": {"title": null, "orient": "none", "legendX": 1.1, "legendY": 204.2, "direction": "horizontal", "columns": 3, "gridAlign": "all", "padding": 0, "clipHeight": 13, "symbolType": "stroke", "symbolSize": 1089, "symbolStrokeWidth": 5, "labelFont": "Noto Sans CJK SC", "labelFontSize": 12.5, "labelColor": "#222", "labelOffset": 3, "columnPadding": -5.5, "rowPadding": 11,
    "encode": {"symbols": {"update": {"strokeCap": {"value": "round"}}}}}}
 }}
 ]
}
]
}
